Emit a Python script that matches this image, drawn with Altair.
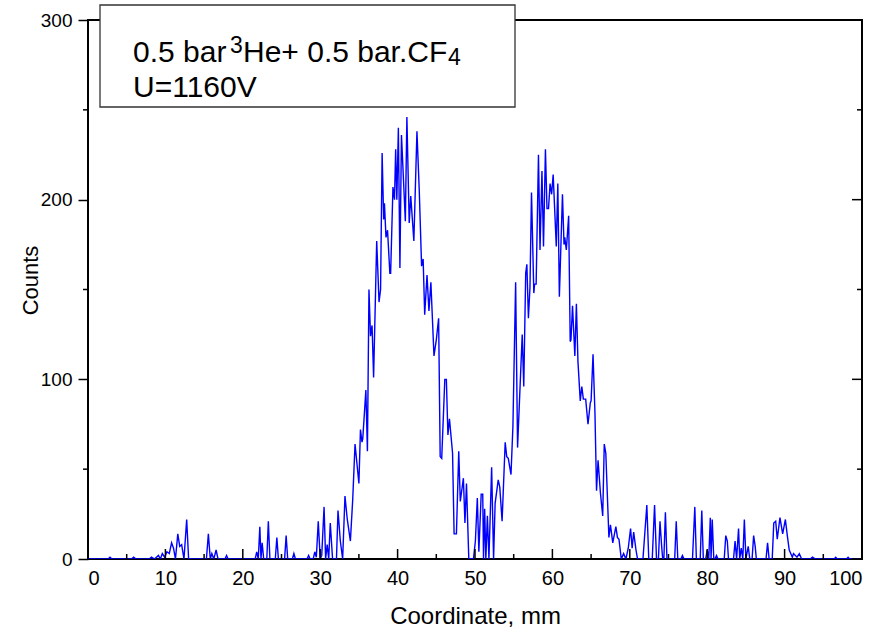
import altair as alt
import pandas as pd

# ---- data (x in mm, counts) ----
tail_left_x = [0, 2.6, 2.84, 3.1, 5.6, 5.9, 6.2, 7.9, 8.2, 8.6,
               9.1, 9.35, 9.6, 9.9, 10.2, 10.5, 10.8, 11.05, 11.3, 11.6,
               11.85, 12.1, 12.4, 12.75, 13.0, 15.3, 15.55, 15.8, 16.0, 16.25,
               16.55, 16.8, 17.7, 17.9, 18.1, 21.6, 21.8, 22.0, 22.2, 22.35,
               22.5, 22.7, 23.1, 23.3, 23.5, 24.2, 24.4, 24.6, 25.4, 25.6,
               25.8, 26.4, 26.6, 26.8, 28.3, 28.5, 28.7, 29.1, 29.3, 29.5,
               29.75, 30.0, 30.2, 30.5, 30.7, 30.9, 31.1, 31.3, 31.6, 32.1,
               32.3, 32.6, 32.9]
tail_left_y = [0, 0, 1, 0, 0, 1, 0, 0, 1, 0,
               2, 0, 3, 1, 4, 3, 9, 6, 0, 14,
               7, 8, 0, 22, 0, 0, 14, 0, 3, 0,
               5, 0, 0, 2, 0, 0, 4, 0, 18, 0,
               9, 0, 0, 21, 0, 0, 12, 0, 0, 13,
               0, 0, 3, 0, 0, 2, 0, 0, 4, 1,
               21, 0, 2, 29, 0, 8, 0, 20, 0, 0,
               27, 10, 0]

peak_left_x = [33.2, 33.5, 33.9, 34.2, 34.5, 35.0, 35.2, 35.4, 35.5, 35.9,
               36.1, 36.3, 36.5, 36.7, 36.9, 37.3, 37.6, 37.8, 38.0, 38.2,
               38.3, 38.5, 38.7, 39.0, 39.1, 39.4, 39.6, 39.75, 39.9, 40.1,
               40.3, 40.5, 41.0, 41.2, 41.5, 41.7, 42.1, 42.5, 42.8, 43.1,
               43.3, 43.5, 43.8, 44.05, 44.3, 44.7, 45.0, 45.3, 45.5, 45.7,
               46.1, 46.3, 46.5, 46.7, 47.1, 47.3, 47.6, 47.9, 48.1, 48.5,
               48.7, 48.9, 49.2, 49.8]
peak_left_y = [35, 22, 10, 33, 64, 42, 72, 65, 67, 94,
               60, 150, 124, 130, 101, 177, 143, 150, 226, 189,
               198, 179, 183, 159, 159, 207, 200, 228, 200, 240,
               162, 236, 188, 246, 187, 202, 177, 238, 205, 163,
               167, 136, 158, 138, 154, 113, 122, 134, 57, 56,
               100, 100, 69, 78, 59, 14, 14, 60, 32, 45,
               20, 42, 0, 0]

peak_right_x = [50.05, 50.3, 50.5, 50.8, 51.0, 51.1, 51.25, 51.4, 51.6, 51.8,
                52.15, 52.4, 52.6, 53.0, 53.2, 53.5, 53.9, 54.1, 54.3, 54.65,
                54.9, 55.25, 55.5, 56.1, 56.3, 56.55, 56.7, 56.9, 57.1, 57.3,
                57.6, 57.7, 57.9, 58.2, 58.4, 58.65, 58.85, 59.1, 59.3, 59.5,
                59.7, 59.9, 60.1, 60.5, 60.7, 60.9, 61.3, 61.5, 61.6, 61.8,
                62.1, 62.3, 62.4, 62.6, 62.9, 63.1, 63.3, 63.6, 63.8, 64.0,
                64.3, 64.6, 64.9, 65.0, 65.25, 65.5, 65.7, 65.9, 66.2, 66.5,
                66.7, 66.9, 67.3, 67.5, 67.8, 68.2, 68.4, 68.6, 68.9, 69.2,
                69.5, 69.8, 70.1, 70.3, 70.5, 70.8]
peak_right_y = [10, 34, 4, 36, 36, 0, 28, 0, 24, 0,
                51, 0, 31, 44, 40, 21, 65, 57, 56, 47,
                74, 154, 62, 125, 96, 159, 164, 134, 151, 204,
                148, 153, 153, 225, 172, 216, 174, 228, 195, 195,
                209, 203, 214, 174, 209, 146, 203, 175, 179, 172,
                191, 121, 122, 141, 113, 142, 110, 88, 96, 89,
                89, 75, 87, 88, 114, 81, 38, 55, 37, 24,
                64, 59, 12, 19, 9, 18, 12, 11, 0, 3,
                0, 6, 17, 6, 15, 5]

tail_right_x = [71.0, 71.7, 72.2, 72.45, 72.9, 73.2, 73.45, 73.7, 73.9, 74.1,
                74.25, 74.4, 74.6, 74.8, 75.8, 76.0, 76.2, 76.6, 76.8, 77.0,
                78.1, 78.4, 78.6, 79.1, 79.3, 79.5, 79.8, 80.0, 80.2, 80.4,
                80.5, 80.65, 80.85, 81.0, 81.2, 81.4, 82.2, 82.4, 82.6, 82.75,
                83.4, 83.6, 83.8, 84.05, 84.2, 84.4, 84.6, 84.8, 85.0, 85.3,
                85.5, 85.8, 86.0, 86.2, 86.35, 87.6, 87.8, 88.0, 88.4, 88.6,
                88.85, 89.05, 89.4, 89.75, 90.1, 90.35, 90.6, 91.0, 91.15, 91.6,
                91.9, 92.2, 93.3, 93.6, 94.0, 96.4, 96.6, 96.8, 98.0, 98.2,
                98.4, 99.75]
tail_right_y = [0, 0, 30, 0, 0, 30, 0, 0, 21, 8,
                0, 0, 26, 0, 0, 21, 0, 0, 2, 0,
                0, 29, 0, 0, 27, 0, 0, 5, 0, 23,
                0, 22, 0, 0, 2, 0, 0, 13, 10, 0,
                0, 10, 0, 17, 0, 6, 0, 22, 0, 7,
                0, 0, 13, 7, 0, 0, 9, 0, 0, 20,
                21, 11, 23, 14, 22, 13, 5, 1, 3, 1,
                3, 0, 0, 1, 0, 0, 1, 0, 0, 1,
                0, 0]

x_ticks_major = [0, 10, 20, 30, 40, 50, 60, 70, 80, 90, 100]
x_ticks_minor = [5, 15, 25, 35, 45, 55, 65, 75, 85, 95]
y_ticks_major = [0, 100, 200, 300]
y_ticks_minor = [50, 150, 250]

coord = tail_left_x + peak_left_x + peak_right_x + tail_right_x
counts = tail_left_y + peak_left_y + peak_right_y + tail_right_y
assert len(coord) == len(counts)

df = pd.DataFrame({"coord": coord, "counts": counts, "order": range(len(coord))})

W, H = 774, 539
FONT = "Liberation Sans"

xscale = alt.Scale(domain=[0, 100], nice=False)
yscale = alt.Scale(domain=[0, 300], nice=False)

line = alt.Chart(df).mark_line(color="#0000FF", strokeWidth=1.4, clip=True).encode(
    x=alt.X("coord:Q", scale=xscale,
            axis=alt.Axis(values=x_ticks_major, ticks=False, domain=False, grid=False,
                          labelFont=FONT, labelFontSize=20, labelColor="black",
                          labelPadding=9, title="Coordinate, mm", titleFont=FONT,
                          titleFontSize=24, titleFontWeight="normal", titleColor="black",
                          titlePadding=16)),
    y=alt.Y("counts:Q", scale=yscale,
            axis=alt.Axis(values=y_ticks_major, tickSize=10, tickWidth=1.5, tickColor="black",
                          domain=False, grid=False, labelFont=FONT, labelFontSize=19,
                          labelColor="black", labelPadding=6, title="Counts",
                          titleFont=FONT, titleFontSize=22, titleFontWeight="normal",
                          titleColor="black", titleX=-46, titleY=260,
                          titleAngle=270, titleBaseline="bottom", titleAlign="center")),
    order="order:Q",
)

xmaj = pd.DataFrame({"v": x_ticks_major})
xmin = pd.DataFrame({"v": x_ticks_minor})
ymaj = pd.DataFrame({"v": y_ticks_major})
ymin = pd.DataFrame({"v": y_ticks_minor})

tick_style = dict(color="black", strokeWidth=1.5)
bottom_major = alt.Chart(xmaj).mark_rule(**tick_style).encode(
    x=alt.X("v:Q", scale=xscale), y=alt.value(H), y2=alt.value(H - 10))
bottom_minor = alt.Chart(xmin).mark_rule(**tick_style).encode(
    x=alt.X("v:Q", scale=xscale), y=alt.value(H), y2=alt.value(H - 5))
right_major = alt.Chart(ymaj).mark_rule(**tick_style).encode(
    y=alt.Y("v:Q", scale=yscale), x=alt.value(W), x2=alt.value(W - 10))
right_minor = alt.Chart(ymin).mark_rule(**tick_style).encode(
    y=alt.Y("v:Q", scale=yscale), x=alt.value(W), x2=alt.value(W - 5))
left_minor = alt.Chart(ymin).mark_rule(**tick_style).encode(
    y=alt.Y("v:Q", scale=yscale), x=alt.value(-5), x2=alt.value(0))

# annotation box
one = pd.DataFrame({"a": [0]})
box = alt.Chart(one).mark_rect(fill="white", stroke="#333333", strokeWidth=1.3, clip=False).encode(
    x=alt.value(12), x2=alt.value(427), y=alt.value(-15), y2=alt.value(87))

def txt(s, x, y, size):
    return alt.Chart(one).mark_text(text=s, font=FONT, fontSize=size, color="black",
                                    align="left", baseline="alphabetic").encode(
        x=alt.value(x), y=alt.value(y))

t1 = txt("0.5 bar", 45, 42, 30)
t2 = txt("3", 142, 33, 23)
t3 = txt("He+ 0.5 bar.CF", 155, 42, 30)
t4 = txt("4", 360, 45, 23)
t5 = txt("U=1160V", 45, 77, 30)

chart = alt.layer(
    line, bottom_major, bottom_minor,
    right_major, right_minor, left_minor, box, t1, t2, t3, t4, t5
).properties(
    width=W, height=H,
    padding={"left": 88, "top": 20, "right": 24, "bottom": 75},
    autosize=alt.AutoSizeParams(type="none"),
    background="white",
).configure_view(stroke="black", strokeWidth=2)

chart.save("out.html", embed_options={"renderer": "svg", "actions": False})
